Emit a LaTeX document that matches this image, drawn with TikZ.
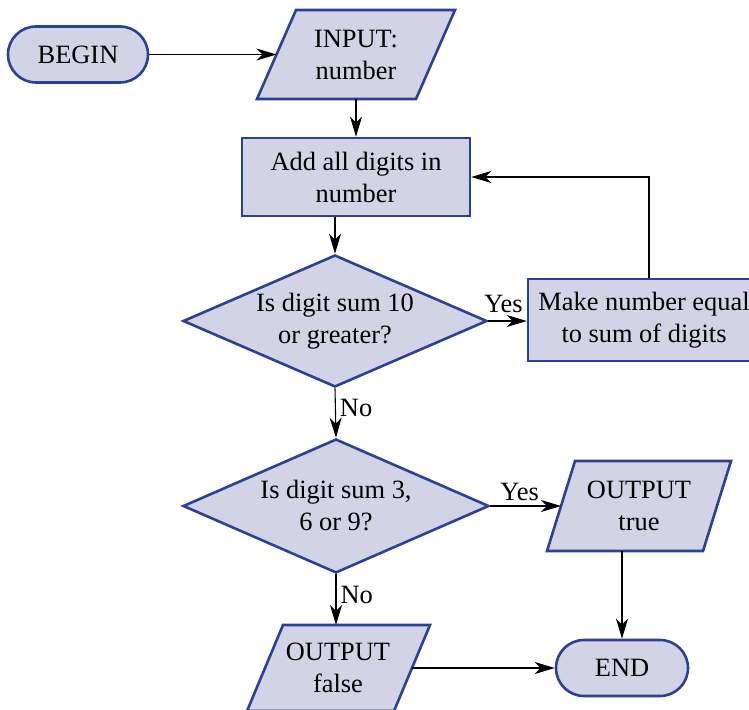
\documentclass[tikz,border=0pt]{standalone}
\usepackage{fontspec}
\setmainfont{Liberation Serif}
\usetikzlibrary{shapes.geometric,shapes.misc,arrows.meta,calc}
\definecolor{boxfill}{RGB}{211,211,230}
\definecolor{boxline}{RGB}{42,66,150}
\begin{document}
\begin{tikzpicture}[x=0.5pt,y=-0.5pt,
  every node/.style={font=\fontsize{13.2pt}{16pt}\selectfont},
  term/.style={rounded rectangle, draw=boxline, fill=boxfill, line width=1.3pt, minimum height=28pt, inner sep=0pt},
  proc/.style={rectangle, draw=boxline, fill=boxfill, line width=1.3pt, inner sep=0pt, align=center},
  dec/.style={diamond, draw=boxline, fill=boxfill, line width=1.3pt, inner sep=0pt, aspect=2.3, align=center},
  io/.style={draw=boxline, fill=boxfill, line width=1.3pt, line join=miter},
  txt/.style={align=center, inner sep=0pt},
  arr/.style={draw=black, line width=0.55pt, -{Stealth[length=10pt,width=6pt,inset=3pt]}},
  lbl/.style={inner sep=2pt}
]
\useasboundingbox (0,0) rectangle (749,710);

% BEGIN
\node[term, minimum width=70pt] (begin) at (78,54.5) {BEGIN};

% INPUT parallelogram
\draw[io] (257,99) coordinate (inBL) -- (296,10) coordinate (inTL) -- (455,10) coordinate (inTR) -- (416,99) coordinate (inBR) -- cycle;
\node[txt] (input) at (356,54.5) {INPUT:\\number};
\coordinate (inL) at ($(inBL)!0.5!(inTL)$);
\coordinate (inB) at (356,99);

% Add digits
\node[proc, minimum width=114pt, minimum height=39pt] (add) at (356,177) {Add all digits in\\number};

% Decision 1
\node[dec, minimum width=152pt, minimum height=66pt] (dec1) at (335,321) {Is digit sum 10\\or greater?};

% Make number equal
\node[proc, minimum width=116pt, minimum height=41pt] (make) at (644,320) {Make number equal\\to sum of digits};

% Decision 2
\node[dec, minimum width=153pt, minimum height=67pt] (dec2) at (336,506) {Is digit sum 3,\\6 or 9?};

% OUTPUT true
\draw[io] (547,551) coordinate (otBL) -- (575,461) coordinate (otTL) -- (731,461) coordinate (otTR) -- (703,551) coordinate (otBR) -- cycle;
\node[txt] (otrue) at (639,506) {OUTPUT\\true};
\coordinate (otL) at ($(otBL)!0.5!(otTL)$);

% OUTPUT false
\draw[io] (247,711) coordinate (ofBL) -- (283,625) coordinate (ofTL) -- (430,625) coordinate (ofTR) -- (394,711) coordinate (ofBR) -- cycle;
\node[txt] (ofalse) at (338,668) {OUTPUT\\false};
\coordinate (ofR) at ($(ofTR)!0.5!(ofBR)$);

% END
\node[term, minimum width=66pt] (end) at (622,668) {END};

% connectors
\draw[arr] (begin.east) -- (inL);
\draw[arr] (inB) -- (add.north);
\draw[arr] (add.south -| dec1.north) -- (dec1.north);
\draw[arr] (dec1.east) -- node[lbl, above=2pt, xshift=-2pt] {Yes} (dec1.east -| make.west);
\draw[arr] ([xshift=2.5pt]make.north) |- (add.east);
\draw[arr] (dec1.south) -- node[lbl, right=0pt, pos=0.4] {No} (dec2.north);
\draw[arr] (dec2.east) -- node[lbl, above=0.5pt, xshift=-3pt] {Yes} (otL);
\draw[arr] (end.north |- otBL) -- (end.north);
\draw[arr] (dec2.south) -- node[lbl, right=0pt, pos=0.4] {No} (dec2.south |- ofTL);
\draw[arr] (ofR) -- (end.west);
\end{tikzpicture}
\end{document}
